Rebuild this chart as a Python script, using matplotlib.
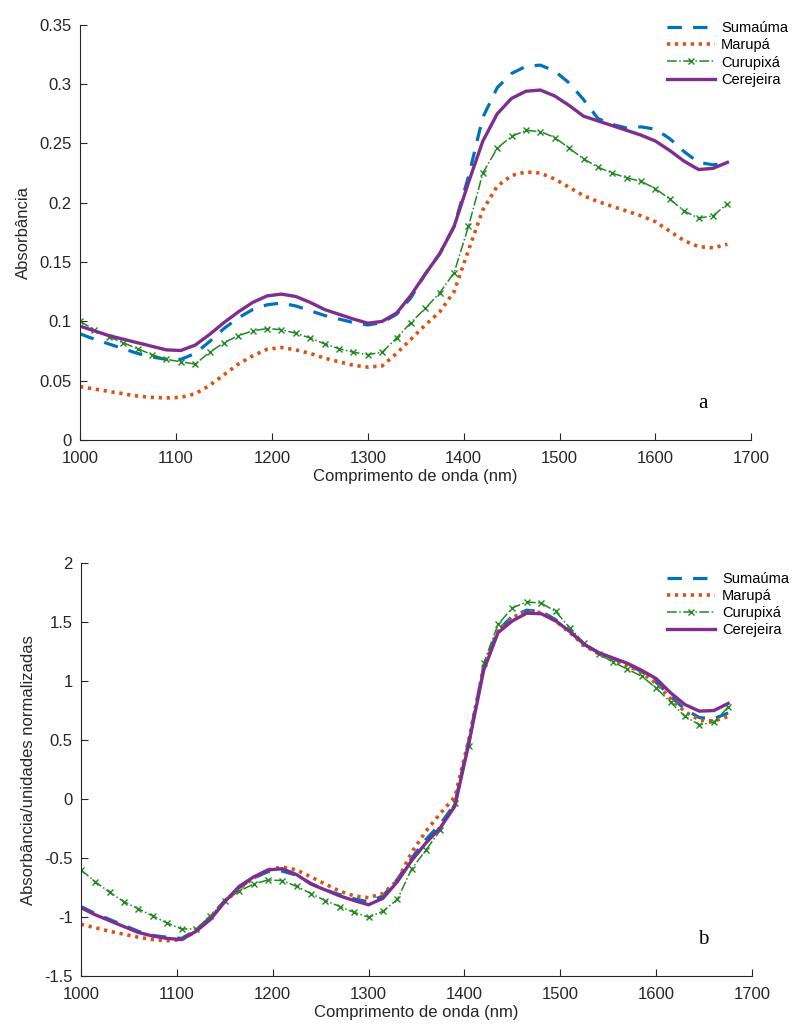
import matplotlib
matplotlib.use("Agg")
import matplotlib.pyplot as plt

plt.rcParams['font.family'] = ['Liberation Sans', 'DejaVu Sans']

# comprimento de onda (nm)
wl = [1000, 1015, 1030, 1045, 1060, 1075, 1090, 1105, 1120, 1135,
      1150, 1165, 1180, 1195, 1210, 1225, 1240, 1255, 1270, 1285,
      1300, 1315, 1330, 1345, 1360, 1375, 1390, 1405, 1420, 1435,
      1450, 1465, 1480, 1495, 1510, 1525, 1540, 1555, 1570, 1585,
      1600, 1615, 1630, 1645, 1660, 1675]

# (a) absorbancia
sumauma_a = [0.0895, 0.085, 0.081, 0.077, 0.073, 0.070, 0.068, 0.068, 0.073, 0.083,
             0.094, 0.103, 0.110, 0.114, 0.1155, 0.113, 0.109, 0.105, 0.102, 0.099,
             0.097, 0.099, 0.106, 0.120, 0.140, 0.157, 0.180, 0.222, 0.272, 0.297,
             0.309, 0.315, 0.316, 0.311, 0.301, 0.287, 0.271, 0.266, 0.263, 0.264,
             0.262, 0.254, 0.243, 0.234, 0.232, 0.233]
marupa_a = [0.045, 0.043, 0.041, 0.039, 0.037, 0.036, 0.0355, 0.036, 0.039, 0.046,
            0.055, 0.064, 0.071, 0.0765, 0.078, 0.076, 0.073, 0.069, 0.066, 0.063,
            0.0615, 0.0625, 0.073, 0.085, 0.097, 0.108, 0.125, 0.160, 0.194, 0.214,
            0.223, 0.226, 0.225, 0.220, 0.213, 0.206, 0.201, 0.197, 0.193, 0.189,
            0.184, 0.176, 0.168, 0.163, 0.162, 0.165]
curupixa_a = [0.100, 0.093, 0.087, 0.082, 0.077, 0.072, 0.068, 0.066, 0.064, 0.074,
              0.082, 0.088, 0.092, 0.094, 0.093, 0.090, 0.086, 0.081, 0.077, 0.074,
              0.072, 0.074, 0.086, 0.099, 0.111, 0.124, 0.141, 0.180, 0.225, 0.246,
              0.256, 0.261, 0.260, 0.255, 0.246, 0.237, 0.230, 0.225, 0.221, 0.218,
              0.212, 0.203, 0.193, 0.187, 0.189, 0.199]
cerejeira_a = [0.096, 0.092, 0.088, 0.085, 0.082, 0.079, 0.076, 0.0755, 0.080, 0.089,
               0.099, 0.108, 0.116, 0.1215, 0.123, 0.121, 0.116, 0.110, 0.106, 0.102,
               0.0985, 0.100, 0.107, 0.122, 0.140, 0.157, 0.180, 0.217, 0.252, 0.275,
               0.288, 0.294, 0.295, 0.290, 0.282, 0.273, 0.269, 0.265, 0.261, 0.257,
               0.252, 0.244, 0.235, 0.228, 0.229, 0.234]

# (b) absorbancia normalizada
sumauma_b = [-0.91, -0.97, -1.02, -1.07, -1.12, -1.155, -1.17, -1.18, -1.11, -1.00,
             -0.86, -0.75, -0.67, -0.615, -0.61, -0.645, -0.715, -0.77, -0.81, -0.845,
             -0.87, -0.82, -0.68, -0.50, -0.34, -0.21, -0.04, 0.51, 1.12, 1.43,
             1.55, 1.60, 1.59, 1.52, 1.42, 1.31, 1.24, 1.19, 1.14, 1.08,
             0.99, 0.87, 0.76, 0.69, 0.68, 0.73]
marupa_b = [-1.06, -1.09, -1.12, -1.145, -1.17, -1.19, -1.20, -1.19, -1.12, -1.00,
            -0.87, -0.76, -0.67, -0.60, -0.575, -0.60, -0.66, -0.72, -0.78, -0.82,
            -0.835, -0.80, -0.69, -0.45, -0.27, -0.12, 0.02, 0.52, 1.12, 1.42,
            1.54, 1.59, 1.58, 1.51, 1.41, 1.30, 1.23, 1.18, 1.13, 1.07,
            0.98, 0.85, 0.74, 0.67, 0.66, 0.70]
curupixa_b = [-0.60, -0.70, -0.79, -0.87, -0.93, -0.99, -1.05, -1.10, -1.10, -0.99,
              -0.86, -0.78, -0.72, -0.685, -0.69, -0.74, -0.80, -0.86, -0.91, -0.96,
              -1.00, -0.95, -0.85, -0.59, -0.43, -0.26, -0.03, 0.45, 1.15, 1.48,
              1.62, 1.67, 1.66, 1.59, 1.45, 1.32, 1.23, 1.16, 1.10, 1.04,
              0.94, 0.82, 0.70, 0.63, 0.65, 0.78]
cerejeira_b = [-0.92, -0.98, -1.03, -1.08, -1.13, -1.16, -1.18, -1.19, -1.12, -1.02,
               -0.87, -0.74, -0.66, -0.60, -0.59, -0.64, -0.72, -0.77, -0.82, -0.86,
               -0.895, -0.84, -0.70, -0.52, -0.37, -0.24, -0.06, 0.49, 1.09, 1.41,
               1.51, 1.575, 1.57, 1.51, 1.42, 1.31, 1.24, 1.195, 1.15, 1.09,
               1.02, 0.90, 0.80, 0.745, 0.75, 0.81]

names = ['Sumaúma', 'Marupá', 'Curupixá', 'Cerejeira']


def draw(ax, series, ylabel, letter, ylim, yticks, yticklabels, leg_y):
    s, m, c, r = series
    ax.plot(wl, s, color='#0072BD', lw=2.3, dashes=(4.5, 3.5), label=names[0])
    ax.plot(wl, m, color='#D95319', lw=2.6, dashes=(0.9, 1.3), label=names[1])
    ax.plot(wl, c, color='#1F8A1F', lw=1.1, linestyle='-.', marker='x',
            markersize=4, markeredgewidth=1.0, label=names[2])
    ax.plot(wl, r, color='#7E2F8E', lw=2.4, label=names[3])
    ax.set_xlim(1000, 1700)
    ax.set_ylim(*ylim)
    ax.set_xticks(range(1000, 1701, 100))
    ax.set_yticks(yticks)
    ax.set_yticklabels(yticklabels)
    for sp in ['top', 'right']:
        ax.spines[sp].set_visible(False)
    for sp in ['left', 'bottom']:
        ax.spines[sp].set_color('#262626')
        ax.spines[sp].set_linewidth(0.8)
    ax.tick_params(direction='in', labelsize=12, colors='#262626', length=5)
    ax.tick_params(axis='y', pad=6)
    ax.tick_params(axis='x', pad=8)
    ax.set_xlabel('Comprimento de onda (nm)', fontsize=12, color='#262626',
                  labelpad=2)
    ax.set_ylabel(ylabel, fontsize=12, color='#262626', labelpad=6)
    ax.text(0.935, 0.065, letter, transform=ax.transAxes, fontsize=15,
            family='Liberation Serif', ha='right', va='bottom')
    ax.legend(loc='upper right', bbox_to_anchor=(1.068, leg_y), frameon=False,
              fontsize=10.5, handlelength=3.3, handletextpad=0.45,
              labelspacing=0.22, borderaxespad=0.2)


fig = plt.figure(figsize=(8.01, 10.33), dpi=100)
ax1 = fig.add_axes([0.1, 0.574, 0.838, 0.402])
ax2 = fig.add_axes([0.101, 0.055, 0.838, 0.400])

draw(ax1, (sumauma_a, marupa_a, curupixa_a, cerejeira_a), 'Absorbância', 'a',
     (0, 0.35), [0, 0.05, 0.1, 0.15, 0.2, 0.25, 0.3, 0.35],
     ['0', '0.05', '0.1', '0.15', '0.2', '0.25', '0.3', '0.35'], 1.03)
draw(ax2, (sumauma_b, marupa_b, curupixa_b, cerejeira_b),
     'Absorbância/unidades normalizadas', 'b',
     (-1.5, 2), [-1.5, -1, -0.5, 0, 0.5, 1, 1.5, 2],
     ['-1.5', '-1', '-0.5', '0', '0.5', '1', '1.5', '2'], 1.0)

fig.savefig('out.png', dpi=100)
